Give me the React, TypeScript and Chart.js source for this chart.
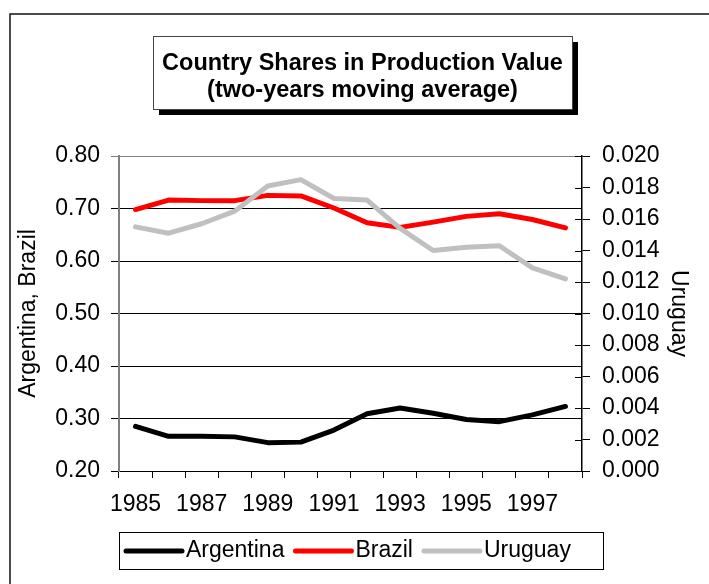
import React, { useEffect, useRef } from "react";
import { Chart, registerables } from "chart.js";

Chart.register(...registerables);

const years = ["1985","1986","1987","1988","1989","1990","1991","1992","1993","1994","1995","1996","1997","1998"];
const shownYears = ["1985","1987","1989","1991","1993","1995","1997"];
const argentina = [0.285, 0.266, 0.266, 0.265, 0.254, 0.255, 0.278, 0.309, 0.320, 0.310, 0.298, 0.294, 0.307, 0.323];
const brazil = [0.698, 0.716, 0.715, 0.715, 0.725, 0.724, 0.701, 0.673, 0.664, 0.674, 0.685, 0.690, 0.679, 0.663];
const uruguay = [0.0155, 0.0151, 0.0157, 0.0165, 0.0181, 0.0185, 0.0173, 0.0172, 0.0154, 0.0140, 0.0142, 0.0143, 0.0129, 0.0122];
const titleLines = ["Country Shares in Production Value", "(two-years moving average)"];
const leftAxisTitle = "Argentina, Brazil";
const rightAxisTitle = "Uruguay";

const FONT = "'Liberation Sans', Arial, sans-serif";

const decorPlugin = {
  id: "decor",
  beforeDatasetsDraw(chart: any) {
    const ctx = chart.ctx;
    const ca = chart.chartArea;
    const y1 = chart.scales.y1;
    ctx.save();
    ctx.strokeStyle = "#000";
    ctx.lineWidth = 1;
    y1.ticks.forEach((t: any) => {
      const py = Math.round(y1.getPixelForValue(t.value)) + 0.5;
      ctx.beginPath();
      ctx.moveTo(ca.right - 7, py);
      ctx.lineTo(ca.right, py);
      ctx.stroke();
    });
    ctx.restore();
  },
  afterDraw(chart: any) {
    const ctx = chart.ctx;
    ctx.save();
    // outer frame
    ctx.strokeStyle = "#111";
    ctx.lineWidth = 1.5;
    ctx.beginPath();
    ctx.moveTo(10, 600);
    ctx.lineTo(10, 14);
    ctx.lineTo(720, 14);
    ctx.stroke();

    // title box with shadow
    const bx = 153, by = 36, bw = 419, bh = 73;
    ctx.fillStyle = "#000";
    ctx.fillRect(bx + 6, by + 6, bw, bh);
    ctx.fillStyle = "#fff";
    ctx.fillRect(bx, by, bw, bh);
    ctx.strokeStyle = "#444";
    ctx.lineWidth = 1;
    ctx.strokeRect(bx + 0.5, by + 0.5, bw, bh);
    ctx.fillStyle = "#000";
    ctx.font = `bold 23.5px ${FONT}`;
    ctx.textAlign = "center";
    ctx.textBaseline = "middle";
    ctx.fillText(titleLines[0], bx + bw / 2, 64);
    ctx.fillText(titleLines[1], bx + bw / 2, 91);

    // legend
    ctx.strokeStyle = "#000";
    ctx.lineWidth = 1;
    ctx.strokeRect(119.5, 532.5, 484, 37);
    ctx.font = `23px ${FONT}`;
    ctx.textAlign = "left";
    ctx.textBaseline = "middle";
    let x = 126;
    const ly = 551;
    chart.data.datasets.forEach((ds: any) => {
      ctx.strokeStyle = ds.borderColor;
      ctx.lineWidth = 5;
      ctx.lineCap = "round";
      ctx.beginPath();
      ctx.moveTo(x, ly);
      ctx.lineTo(x + 56, ly);
      ctx.stroke();
      ctx.fillStyle = "#000";
      ctx.fillText(ds.label, x + 60, ly);
      x = x + 60 + ctx.measureText(ds.label).width + 11;
    });
    ctx.restore();
  },
};

export default function App() {
  const ref = useRef<HTMLCanvasElement>(null);
  useEffect(() => {
    document.body.style.margin = "0";
    const chart = new Chart(ref.current as HTMLCanvasElement, {
      type: "line",
      data: {
        labels: years,
        datasets: [
          { label: "Argentina", data: argentina, borderColor: "#000000", backgroundColor: "#000000", borderWidth: 5, pointRadius: 0, tension: 0, yAxisID: "y", order: 1, borderCapStyle: "round", borderJoinStyle: "round" },
          { label: "Brazil", data: brazil, borderColor: "#ff0000", backgroundColor: "#ff0000", borderWidth: 5, pointRadius: 0, tension: 0, yAxisID: "y", order: 1, borderCapStyle: "round", borderJoinStyle: "round" },
          { label: "Uruguay", data: uruguay, borderColor: "#c0c0c0", backgroundColor: "#c0c0c0", borderWidth: 5, pointRadius: 0, tension: 0, yAxisID: "y1", order: 0, borderCapStyle: "round", borderJoinStyle: "round" },
        ],
      },
      options: {
        responsive: false,
        animation: false,
        layout: { padding: { top: 156, bottom: 0, left: 0, right: 0 } },
        plugins: { legend: { display: false }, title: { display: false }, tooltip: { enabled: false } },
        scales: {
          x: {
            offset: true,
            grid: { offset: true, drawOnChartArea: false, drawTicks: true, tickLength: 7, color: "#000" },
            border: { color: "#000", width: 1 },
            ticks: {
              autoSkip: false,
              maxRotation: 0,
              padding: 13,
              color: "#000",
              font: { family: FONT, size: 23 },
              callback: (_v: any, i: number) => (shownYears.includes(years[i]) ? years[i] : ""),
            },
            afterFit: (s: any) => { s.height = 113; },
          },
          y: {
            position: "left",
            min: 0.2,
            max: 0.8,
            ticks: { stepSize: 0.1, padding: 11, color: "#000", font: { family: FONT, size: 23 }, callback: (v: any) => Number(v).toFixed(2) },
            grid: { color: (c: any) => (c.tick && Math.abs(c.tick.value - 0.8) < 1e-6 ? "#808080" : "#000"), lineWidth: 1, tickLength: 8 },
            border: { color: "#808080", width: 2 },
            title: { display: true, text: leftAxisTitle, color: "#000", font: { family: FONT, size: 23 }, padding: { top: 15, bottom: 0 } },
            afterFit: (s: any) => { s.width = 119; },
          },
          y1: {
            position: "right",
            min: 0,
            max: 0.02,
            ticks: { stepSize: 0.002, padding: 12, color: "#000", font: { family: FONT, size: 23 }, callback: (v: any) => Number(v).toFixed(3) },
            grid: { drawOnChartArea: false, color: "#000", tickLength: 8 },
            border: { color: "#000", width: 1.5 },
            title: { display: true, text: rightAxisTitle, color: "#000", font: { family: FONT, size: 23 }, padding: { top: 17, bottom: 0 } },
            afterFit: (s: any) => { s.width = 127; },
          },
        },
      },
      plugins: [decorPlugin],
    } as any);
    return () => chart.destroy();
  }, []);
  return (
    <canvas
      ref={ref}
      width={709}
      height={584}
      style={{ position: "fixed", left: 0, top: 0, display: "block", width: 709, height: 584 }}
    />
  );
}
